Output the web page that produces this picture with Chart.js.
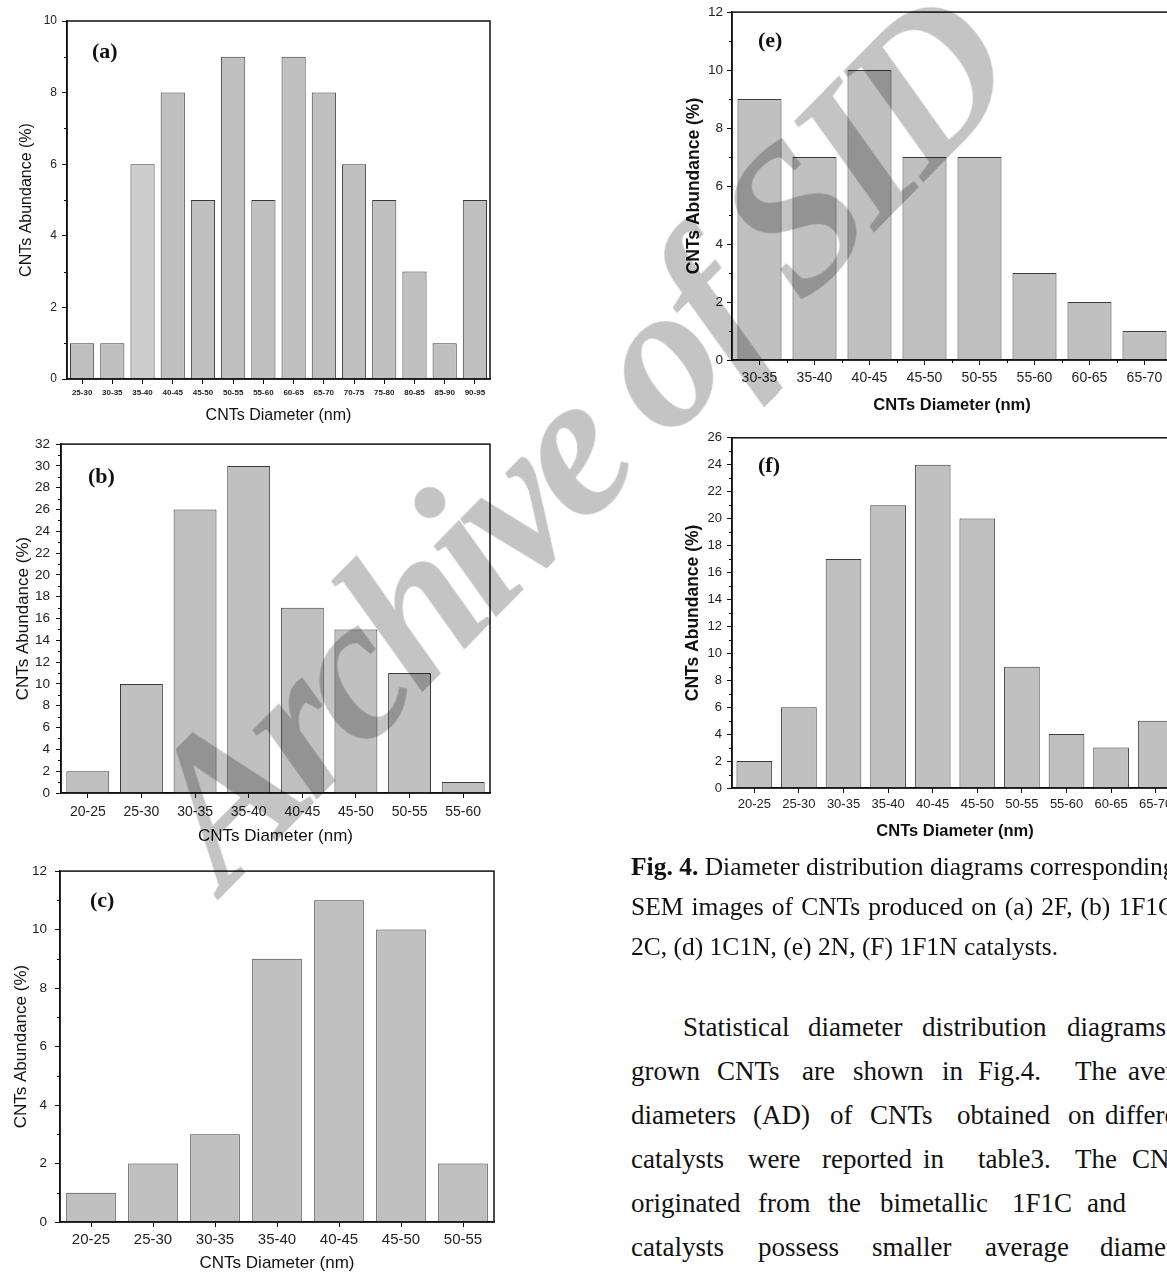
<!DOCTYPE html>
<html>
<head>
<meta charset="utf-8">
<script src="https://cdn.jsdelivr.net/npm/chart.js@4.4.1/dist/chart.umd.min.js"></script>
<style>
  body { margin: 0; width: 1167px; height: 1274px; overflow: hidden; background: #fff; position: relative; }
  canvas { position: absolute; }
  .tag { position: absolute; font: bold 22px "Liberation Serif", serif; line-height: 1; color: #111; }
  .cap { position: absolute; left: 631px; font: 25.5px "Liberation Serif", serif; line-height: 40px; white-space: nowrap; color: #111; }
  .w { position: absolute; font: 27px "Liberation Serif", serif; line-height: 1; white-space: nowrap; color: #111; }
  #mark {
    position: absolute; left: 225px; top: 721px;
    font: italic bold 205px "Liberation Serif", serif; line-height: 1; white-space: nowrap;
    letter-spacing: -10px;
    color: rgba(0, 0, 0, 0.23);
    transform-origin: 0 172px; transform: rotate(-45.5deg);
  }
</style>
</head>
<body>
<canvas id="chartA" width="500" height="430" style="left:0;top:0"></canvas>
<canvas id="chartB" width="500" height="420" style="left:0;top:430px"></canvas>
<canvas id="chartC" width="500" height="419" style="left:0;top:855px"></canvas>
<canvas id="chartE" width="500" height="425" style="left:680px;top:0"></canvas>
<canvas id="chartF" width="500" height="425" style="left:680px;top:425px"></canvas>

<div class="tag" style="left:92px;top:40px">(a)</div>
<div class="tag" style="left:88px;top:465px">(b)</div>
<div class="tag" style="left:90px;top:889px">(c)</div>
<div class="tag" style="left:758px;top:29px">(e)</div>
<div class="tag" style="left:758px;top:454px">(f)</div>

<div class="cap" style="top:847px"><b>Fig. 4.</b> Diameter distribution diagrams corresponding</div>
<div class="cap" style="top:887px;word-spacing:1.7px">SEM images of CNTs produced on (a) 2F, (b) 1F1C,</div>
<div class="cap" style="top:927px">2C, (d) 1C1N, (e) 2N, (F) 1F1N catalysts.</div>
<div id="para"></div>

<div id="mark">Archive of SID</div>

<script>
// ===== DATA =====
const diameterA = ["25-30", "30-35", "35-40", "40-45", "45-50", "50-55", "55-60",
  "60-65", "65-70", "70-75", "75-80", "80-85", "85-90", "90-95"];
const abundanceA = [1, 1, 6, 8, 5, 9, 5, 9, 8, 6, 5, 3, 1, 5];

const diameterB = ["20-25", "25-30", "30-35", "35-40", "40-45", "45-50", "50-55", "55-60"];
const abundanceB = [2, 10, 26, 30, 17, 15, 11, 1];

const diameterC = ["20-25", "25-30", "30-35", "35-40", "40-45", "45-50", "50-55"];
const abundanceC = [1, 2, 3, 9, 11, 10, 2];

const diameterE = ["30-35", "35-40", "40-45", "45-50", "50-55", "55-60", "60-65", "65-70"];
const abundanceE = [9, 7, 10, 7, 7, 3, 2, 1];

const diameterF = ["20-25", "25-30", "30-35", "35-40", "40-45", "45-50", "50-55",
  "55-60", "60-65", "65-70"];
const abundanceF = [2, 6, 17, 21, 24, 20, 9, 4, 3, 5];

const xTitle = "CNTs Diameter (nm)";
const yTitle = "CNTs Abundance (%)";

// frame round the plot + short minor ticks
const framePlugin = {
  id: "frame",
  afterDraw(chart, args, opts) {
    const { ctx, chartArea: a, scales: { x, y } } = chart;
    ctx.save();
    ctx.strokeStyle = "#111";
    ctx.lineWidth = 1.5;
    ctx.strokeRect(a.left, a.top, a.right - a.left, a.bottom - a.top);
    ctx.lineWidth = 1;
    ctx.beginPath();
    for (let v = 1; v < y.max; v += 2) {
      const py = Math.round(y.getPixelForValue(v)) + 0.5;
      ctx.moveTo(a.left - 3, py);
      ctx.lineTo(a.left, py);
    }
    if (opts.boundary) {
      for (let i = 1; i < x.ticks.length; i++) {
        const px = Math.round(x.getPixelForValue(i - 0.5)) + 0.5;
        ctx.moveTo(px, a.bottom);
        ctx.lineTo(px, a.bottom + 3);
      }
    }
    ctx.stroke();
    ctx.restore();
  }
};

function makeChart(id, labels, values, yMax, look) {
  const font = "'Liberation Sans', Arial, sans-serif";
  return new Chart(document.getElementById(id), {
    type: "bar",
    data: {
      labels: labels,
      datasets: [{
        data: values,
        backgroundColor: (c) => (look.light === c.dataIndex ? "#cdcdcd" : "#c0c0c0"),
        borderColor: "#3a3a3a",
        borderWidth: 1,
        categoryPercentage: 0.8,
        barPercentage: 1
      }]
    },
    options: {
      responsive: false,
      animation: false,
      events: [],
      layout: { padding: { top: look.padTop, right: look.padRight, left: 0, bottom: 0 } },
      plugins: {
        legend: { display: false },
        tooltip: { enabled: false },
        frame: { boundary: !!look.boundary }
      },
      scales: {
        x: {
          afterFit: (s) => { s.height = look.xHeight; },
          border: { display: true, color: "#111", width: 1.5 },
          grid: { drawOnChartArea: false, drawTicks: true, tickLength: 5, color: "#111", offset: false },
          ticks: {
            autoSkip: false, maxRotation: 0, padding: look.xTickPad, color: "#222",
            font: { family: font, size: look.xTick, weight: look.xTickBold ? "bold" : "normal" }
          },
          title: {
            display: true, text: xTitle, color: "#111",
            padding: { top: 0, bottom: look.xTitlePad },
            font: { family: font, size: look.xTitleSize, weight: look.bold ? "bold" : "normal" }
          }
        },
        y: {
          min: 0, max: yMax,
          afterFit: (s) => { s.width = look.yWidth; },
          border: { display: true, color: "#111", width: 1.5 },
          grid: { drawOnChartArea: false, drawTicks: true, tickLength: 5, color: "#111" },
          ticks: {
            stepSize: 2, padding: look.yTickPad, color: "#222",
            font: { family: font, size: look.yTick }
          },
          title: {
            display: true, text: yTitle, color: "#111",
            padding: { top: look.yTitlePad, bottom: 0 },
            font: { family: font, size: look.yTitleSize, weight: look.bold ? "bold" : "normal" }
          }
        }
      }
    },
    plugins: [framePlugin]
  });
}

makeChart("chartA", diameterA, abundanceA, 10, {
  padTop: 21, padRight: 10, yWidth: 67, xHeight: 51, light: 2,
  xTick: 8, xTickBold: true, xTickPad: 4, yTick: 12, yTickPad: 5,
  xTitleSize: 16, xTitlePad: 5, yTitleSize: 16, yTitlePad: 17
});
makeChart("chartB", diameterB, abundanceB, 32, {
  padTop: 13, padRight: 10, yWidth: 61, xHeight: 57,
  xTick: 14, xTickPad: 6, yTick: 13.5, yTickPad: 6,
  xTitleSize: 17, xTitlePad: 3, yTitleSize: 17, yTitlePad: 13
});
makeChart("chartC", diameterC, abundanceC, 12, {
  padTop: 15, padRight: 6, yWidth: 60, xHeight: 52,
  xTick: 15, xTickPad: 4, yTick: 13.5, yTickPad: 8,
  xTitleSize: 17, xTitlePad: 0, yTitleSize: 17, yTitlePad: 11
});
makeChart("chartE", diameterE, abundanceE, 12, {
  padTop: 12, padRight: 8, yWidth: 52, xHeight: 65, boundary: true, bold: true,
  xTick: 14, xTickPad: 5, yTick: 13.5, yTickPad: 4,
  xTitleSize: 16.5, xTitlePad: 10, yTitleSize: 17.5, yTitlePad: 4
});
makeChart("chartF", diameterF, abundanceF, 26, {
  padTop: 12, padRight: 2, yWidth: 52, xHeight: 62, bold: true,
  xTick: 13, xTickPad: 4, yTick: 13, yTickPad: 5,
  xTitleSize: 16.5, xTitlePad: 9, yTitleSize: 17.5, yTitlePad: 3
});

// ===== BODY TEXT (justified lines, cut at the page edge) =====
const paraLines = [
  [1027, [[683, "Statistical"], [808, "diameter"], [922, "distribution"], [1067, "diagrams"]]],
  [1071, [[631, "grown"], [717, "CNTs"], [802, "are"], [853, "shown"], [942, "in"], [978, "Fig.4."], [1075, "The"], [1128, "average"]]],
  [1115, [[631, "diameters"], [753, "(AD)"], [830, "of"], [870, "CNTs"], [957, "obtained"], [1068, "on"], [1105, "different"]]],
  [1159, [[631, "catalysts"], [748, "were"], [822, "reported"], [923, "in"], [978, "table3."], [1075, "The"], [1132, "CNTs"]]],
  [1203, [[631, "originated"], [758, "from"], [828, "the"], [880, "bimetallic"], [1012, "1F1C"], [1087, "and"]]],
  [1247, [[631, "catalysts"], [758, "possess"], [872, "smaller"], [985, "average"], [1100, "diameter"]]]
];

const para = document.getElementById("para");
paraLines.forEach(([y, words]) => {
  words.forEach(([x, w]) => {
    const s = document.createElement("span");
    s.className = "w";
    s.style.left = x + "px";
    s.style.top = (y - 13) + "px";
    s.textContent = w;
    para.appendChild(s);
  });
});
</script>
</body>
</html>
